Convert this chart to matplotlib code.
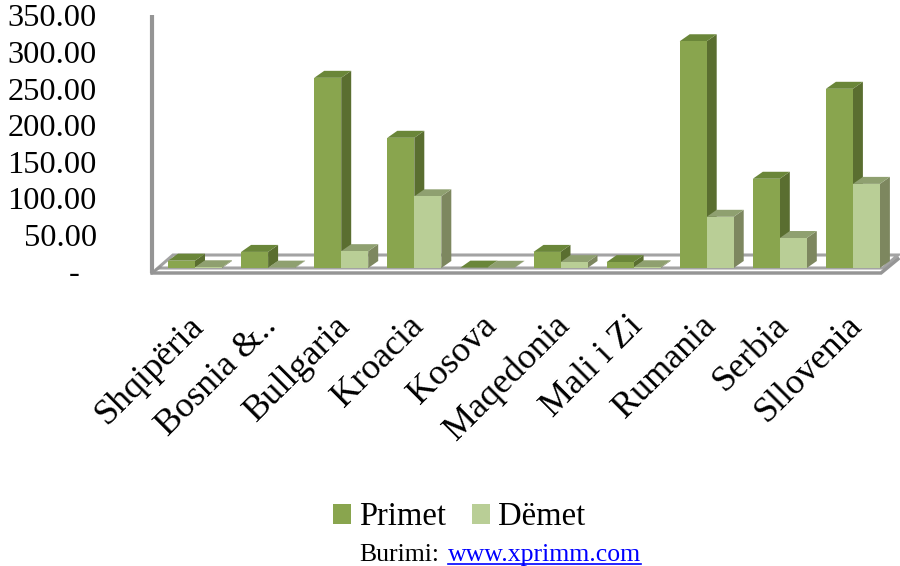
import matplotlib
matplotlib.use("Agg")
import matplotlib.pyplot as plt
from matplotlib.patches import Polygon, Patch
from matplotlib.lines import Line2D
from matplotlib.transforms import ScaledTranslation, IdentityTransform

# ---- data -------------------------------------------------------------
countries = ["Shqipëria", "Bosnia &..", "Bullgaria", "Kroacia", "Kosova",
             "Maqedonia", "Mali i Zi", "Rumania", "Serbia", "Sllovenia"]
primet = [10, 22, 260, 178, 0.5, 22, 8, 310, 122, 245]
demet = [1, 0.5, 23, 98, 0.3, 8, 1, 70, 41, 115]
series_names = ["Primet", "Dëmet"]
y_ticks = [0, 50, 100, 150, 200, 250, 300, 350]

# ---- styling ----------------------------------------------------------
SERIF = "Liberation Serif"
front_col = ["#89a54e", "#b9ce96"]
side_col = ["#5a6e30", "#7d875f"]
top_col = ["#6a8639", "#8fa070"]
edge_gray = "#a3a3a3"
axis_gray = "#959595"

W, H, DPI = 900, 566, 100
fig = plt.figure(figsize=(W / DPI, H / DPI), dpi=DPI)

# plot area in pixels
ax_left, ax_right = 152, 900
ax_bottom, ax_top = 268, 12
ax = fig.add_axes([ax_left / W, (H - ax_bottom) / H,
                   (ax_right - ax_left) / W, (ax_bottom - ax_top) / H])

cat_px = 73.1                      # pixels per category
first_center_px = 195
xmin = -(first_center_px - ax_left) / cat_px
xmax = xmin + (ax_right - ax_left) / cat_px
ymax = 350
ax.set_xlim(xmin, xmax)
ax.set_ylim(0, ymax)
ax.axis("off")

px_x = 1.0 / cat_px                          # data units per pixel (x)
px_y = ymax / (ax_bottom - ax_top)           # data units per pixel (y)

bar_w = 27 * px_x
depth_dx, depth_dy = 10 * px_x, 7 * px_y

# ---- floor slab -------------------------------------------------------
fb_y = 13 * px_y
floor = Polygon([(xmin + 6 * px_x, 0), (xmax - 17 * px_x, 0),
                 (xmax - 2 * px_x, fb_y), (xmin + 21 * px_x, fb_y)],
                closed=True, facecolor="white", edgecolor=edge_gray,
                lw=2.2, zorder=1, clip_on=False)
ax.add_patch(floor)
ax.plot([xmin, xmax - 19 * px_x, xmax - 2 * px_x],
        [-5 * px_y, -5 * px_y, fb_y - 4 * px_y],
        color=axis_gray, lw=2.5, zorder=1, clip_on=False,
        solid_joinstyle="miter")
ax.plot([xmin, xmin + 8 * px_x], [-5 * px_y, 1 * px_y],
        color=axis_gray, lw=2.0, zorder=1, clip_on=False)

# vertical value axis line
ax.plot([xmin, xmin], [-5 * px_y, (ax_bottom - 15) * px_y],
        color=axis_gray, lw=3, zorder=1, clip_on=False,
        solid_capstyle="butt")

# ---- 3-D looking bars -------------------------------------------------
values = [primet, demet]
for i in range(len(countries)):
    for s in range(2):
        h = values[s][i]
        x0 = i - bar_w if s == 0 else i
        z = 2 + i * 0.1 + s * 0.05
        side = Polygon([(x0 + bar_w, 0), (x0 + bar_w + depth_dx, depth_dy),
                        (x0 + bar_w + depth_dx, h + depth_dy), (x0 + bar_w, h)],
                       closed=True, facecolor=side_col[s], edgecolor="none",
                       zorder=z)
        top = Polygon([(x0, h), (x0 + bar_w, h),
                       (x0 + bar_w + depth_dx, h + depth_dy), (x0 + depth_dx, h + depth_dy)],
                      closed=True, facecolor=top_col[s], edgecolor="none",
                      zorder=z + 0.01)
        ax.add_patch(side)
        ax.add_patch(top)
        ax.bar(x0, h, width=bar_w, align="edge", color=front_col[s],
               edgecolor="none", zorder=z + 0.02)

# ---- value axis labels -------------------------------------------------
for v in y_ticks:
    lab = "-" if v == 0 else f"{v:.2f}"
    dx = -55 if v != 0 else -72
    tr = ax.get_yaxis_transform() + ScaledTranslation(dx / DPI, -7 / DPI,
                                                      fig.dpi_scale_trans)
    ax.text(0, v, lab, transform=tr, ha="right", va="center",
            fontsize=23.3, family=SERIF, color="black", clip_on=False)

# ---- category labels ---------------------------------------------------
lab_tr = ax.get_xaxis_transform() + ScaledTranslation(4 / DPI, -53 / DPI,
                                                      fig.dpi_scale_trans)
for i, name in enumerate(countries):
    ax.text(i, 0, name, transform=lab_tr, rotation=45, rotation_mode="anchor",
            ha="right", va="center", fontsize=26, family=SERIF,
            color="black", clip_on=False)

# ---- legend -----------------------------------------------------------
handles = [Patch(facecolor=front_col[0], edgecolor="none"),
           Patch(facecolor=front_col[1], edgecolor="none")]
fig.legend(handles, series_names, loc="center",
           bbox_to_anchor=(459 / W, 1 - 517 / H), ncol=2, frameon=False,
           prop={"family": SERIF, "size": 23.5}, handlelength=0.55,
           handleheight=0.55, handletextpad=0.25, columnspacing=0.8,
           borderaxespad=0, borderpad=0)

# ---- source line ------------------------------------------------------
fig.text(359 / W, (H - 561) / H, "Burimi:", ha="left", va="baseline",
         fontsize=18.5, family=SERIF, color="black")
link = fig.text(448 / W, (H - 561) / H, "www.xprimm.com", ha="left",
                va="baseline", fontsize=18.5, family=SERIF, color="#0000ff")
fig.canvas.draw()
bb = link.get_window_extent(fig.canvas.get_renderer())
fig.add_artist(Line2D([bb.x0, bb.x1], [2.2, 2.2], transform=IdentityTransform(),
                      color="#0000ff", lw=1.2))

fig.savefig("out.png", dpi=DPI, facecolor="white")
